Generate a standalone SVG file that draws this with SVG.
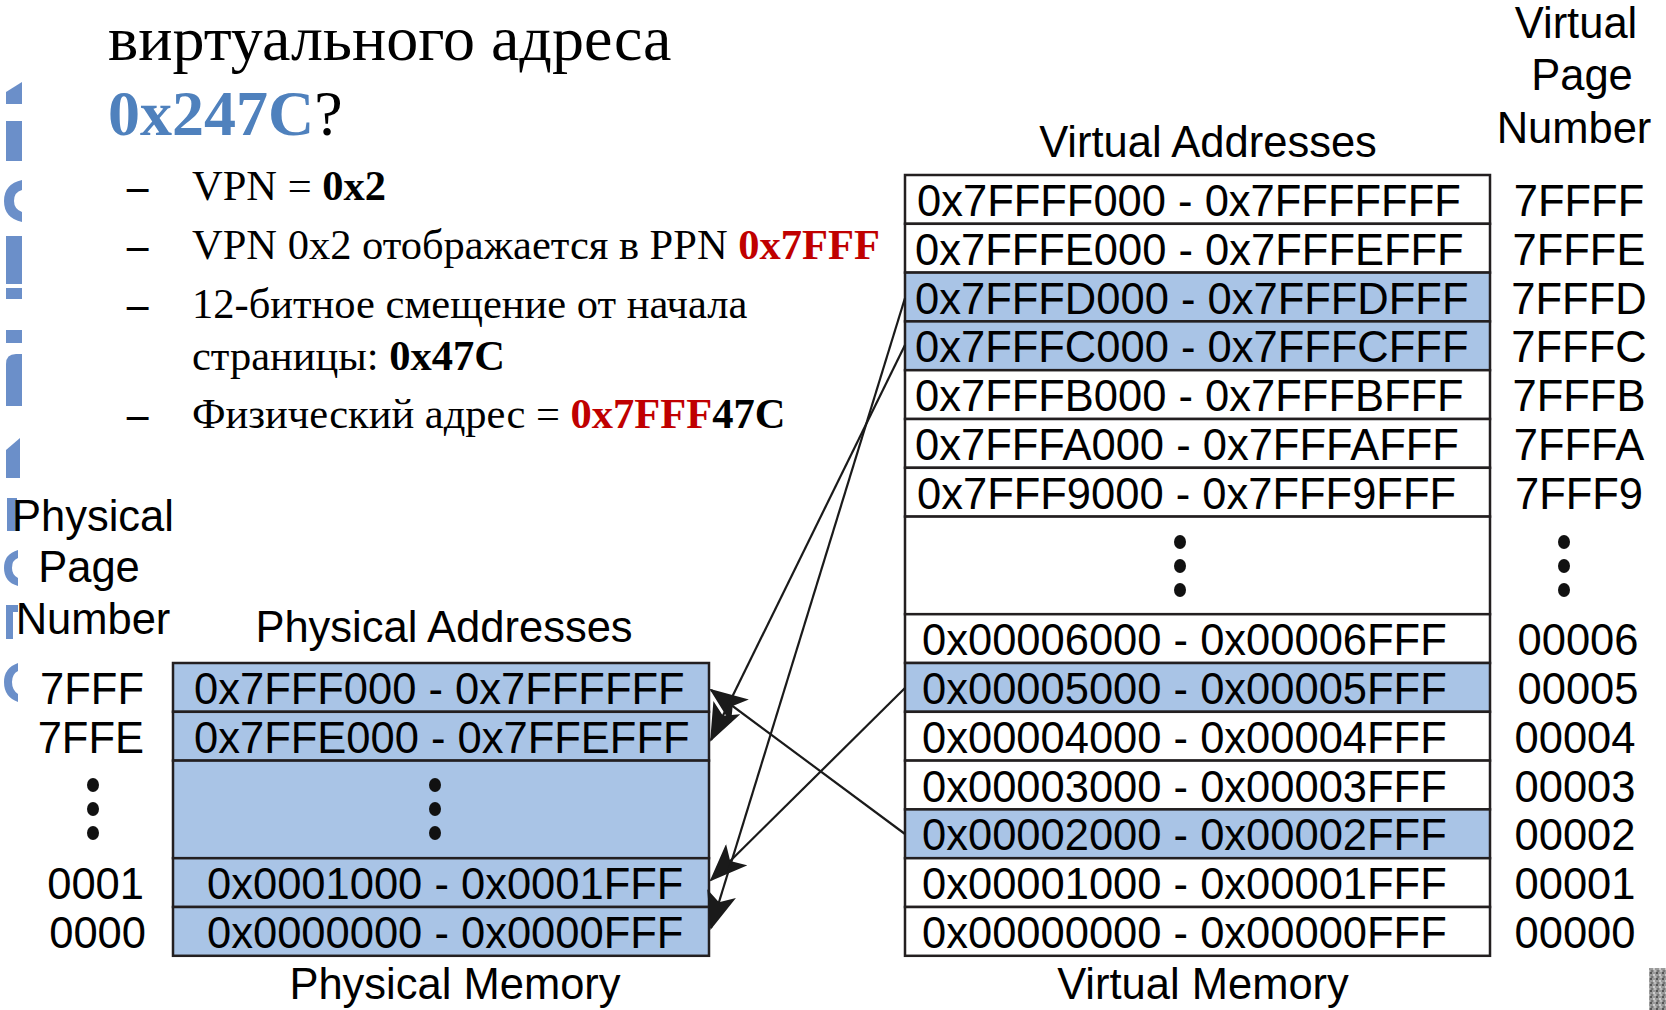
<svg xmlns="http://www.w3.org/2000/svg" width="1666" height="1010" viewBox="0 0 1666 1010">
<style>
.serif{font-family:"Liberation Serif","Times New Roman",serif;fill:#000}
.sans{font-family:"Liberation Sans",Arial,sans-serif;fill:#000;font-size:43.5px}
.mid{text-anchor:middle}
.end{text-anchor:end}
.cell{stroke:#231F20;stroke-width:2.5}
.white{fill:#fff}
.blue{fill:#A9C4E6}
.frag{fill:#6B8FC9}
.conn{stroke:#1a1a1a;stroke-width:2.2;fill:none;marker-end:url(#ah)}
.dot{fill:#111}
.dash{font-weight:bold}
</style>
<defs>
<marker id="ah" markerUnits="userSpaceOnUse" markerWidth="38" markerHeight="30" refX="36" refY="15" orient="auto">
<path d="M0,0 L38,15 L0,30 L9,15 Z" fill="#1a1a1a"/>
</marker>
<pattern id="noise" width="6" height="6" patternUnits="userSpaceOnUse">
<rect width="6" height="6" fill="#9a9a9a"/>
<rect x="0" y="0" width="2" height="2" fill="#555"/>
<rect x="3" y="2" width="2" height="2" fill="#ccc"/>
<rect x="1" y="4" width="2" height="2" fill="#777"/>
<rect x="4" y="4" width="2" height="2" fill="#bbb"/>
</pattern>
</defs>

<g id="edge-fragments">
<polygon class="frag" points="6,92 22,82 22,104 6,104"/>
<path class="frag" d="M6,121 H22 V161 H6 Z"/>
<path class="frag" d="M22,180 Q4,184 4,201 Q4,218 22,222 V212 Q14,209 14,201 Q14,192 22,190 Z"/>
<path class="frag" d="M6,236 H22 V284 H6 Z"/>
<rect class="frag" x="6" y="288" width="16" height="11"/>
<rect class="frag" x="6" y="330" width="16" height="13"/>
<path class="frag" d="M6,364 Q6,354 16,354 H22 V406 H6 Z"/>
<polygon class="frag" points="6,450 20,438 20,478 6,478"/>
<rect class="frag" x="7" y="498" width="10" height="33"/>
<path class="frag" d="M18,550 Q4,554 4,568 Q4,582 18,586 V578 Q12,575 12,568 Q12,560 18,558 Z"/>
<path class="frag" d="M6,605 H18 V612 H13 V639 H6 Z"/>
<path class="frag" d="M18,663 Q4,668 4,682 Q4,697 18,702 V694 Q12,690 12,682 Q12,674 18,671 Z"/>
</g>
<rect id="corner-texture" x="1649" y="968" width="17" height="42" fill="url(#noise)"/>

<g id="question">
<text class="serif" x="108" y="60" font-size="64">виртуального адреса</text>
<text class="serif" x="108" y="135" font-size="64"><tspan font-weight="bold" fill="#4F81BD">0x247C</tspan>?</text>
</g>

<g id="bullets" class="serif" font-size="42.5">
<text class="serif dash" x="127" y="200">–</text>
<text class="serif" x="192" y="200">VPN = <tspan font-weight="bold">0x2</tspan></text>
<text class="serif dash" x="127" y="259">–</text>
<text class="serif" x="192" y="259">VPN 0x2 отображается в PPN <tspan font-weight="bold" fill="#C00000">0x7FFF</tspan></text>
<text class="serif dash" x="127" y="318">–</text>
<text class="serif" x="192" y="318">12-битное смещение от начала</text>
<text class="serif" x="192" y="370">страницы: <tspan font-weight="bold">0x47C</tspan></text>
<text class="serif dash" x="127" y="428">–</text>
<text class="serif" x="192" y="428">Физический адрес = <tspan font-weight="bold" fill="#C00000">0x7FFF</tspan><tspan font-weight="bold">47C</tspan></text>
</g>

<g id="virtual-memory">
<text class="sans mid" x="1208" y="157">Virtual Addresses</text>
<text class="sans mid" x="1576" y="38">Virtual</text>
<text class="sans mid" x="1582" y="90">Page</text>
<text class="sans mid" x="1574" y="143">Number</text>
<rect class="cell white" x="905" y="175" width="585" height="48.8"/>
<rect class="cell white" x="905" y="223.8" width="585" height="48.8"/>
<rect class="cell blue" x="905" y="272.6" width="585" height="48.8"/>
<rect class="cell blue" x="905" y="321.4" width="585" height="48.8"/>
<rect class="cell white" x="905" y="370.2" width="585" height="48.8"/>
<rect class="cell white" x="905" y="419" width="585" height="48.8"/>
<rect class="cell white" x="905" y="467.8" width="585" height="48.8"/>
<rect class="cell white" x="905" y="516.6" width="585" height="97.6"/>
<rect class="cell white" x="905" y="614.2" width="585" height="48.8"/>
<rect class="cell blue" x="905" y="663" width="585" height="48.8"/>
<rect class="cell white" x="905" y="711.8" width="585" height="48.8"/>
<rect class="cell white" x="905" y="760.6" width="585" height="48.8"/>
<rect class="cell blue" x="905" y="809.4" width="585" height="48.8"/>
<rect class="cell white" x="905" y="858.2" width="585" height="48.8"/>
<rect class="cell white" x="905" y="907" width="585" height="48.8"/>
<text class="sans" x="917" y="216">0x7FFFF000 - 0x7FFFFFFF</text>
<text class="sans" x="915" y="264.8">0x7FFFE000 - 0x7FFFEFFF</text>
<text class="sans" x="915" y="313.6">0x7FFFD000 - 0x7FFFDFFF</text>
<text class="sans" x="915" y="362.4">0x7FFFC000 - 0x7FFFCFFF</text>
<text class="sans" x="915" y="411.2">0x7FFFB000 - 0x7FFFBFFF</text>
<text class="sans" x="915" y="460">0x7FFFA000 - 0x7FFFAFFF</text>
<text class="sans" x="917" y="508.8">0x7FFF9000 - 0x7FFF9FFF</text>
<ellipse class="dot" cx="1180" cy="542" rx="6" ry="7"/>
<ellipse class="dot" cx="1180" cy="566" rx="6" ry="7"/>
<ellipse class="dot" cx="1180" cy="590" rx="6" ry="7"/>
<text class="sans" x="922" y="655.2">0x00006000 - 0x00006FFF</text>
<text class="sans" x="922" y="704">0x00005000 - 0x00005FFF</text>
<text class="sans" x="922" y="752.8">0x00004000 - 0x00004FFF</text>
<text class="sans" x="922" y="801.6">0x00003000 - 0x00003FFF</text>
<text class="sans" x="922" y="850.4">0x00002000 - 0x00002FFF</text>
<text class="sans" x="922" y="899.2">0x00001000 - 0x00001FFF</text>
<text class="sans" x="922" y="948">0x00000000 - 0x00000FFF</text>
<text class="sans mid" x="1579" y="216">7FFFF</text>
<text class="sans mid" x="1579" y="264.8">7FFFE</text>
<text class="sans mid" x="1579" y="313.6">7FFFD</text>
<text class="sans mid" x="1579" y="362.4">7FFFC</text>
<text class="sans mid" x="1579" y="411.2">7FFFB</text>
<text class="sans mid" x="1579" y="460">7FFFA</text>
<text class="sans mid" x="1579" y="508.8">7FFF9</text>
<ellipse class="dot" cx="1564" cy="542" rx="6" ry="7"/>
<ellipse class="dot" cx="1564" cy="566" rx="6" ry="7"/>
<ellipse class="dot" cx="1564" cy="590" rx="6" ry="7"/>
<text class="sans mid" x="1578" y="655.2">00006</text>
<text class="sans mid" x="1578" y="704">00005</text>
<text class="sans mid" x="1575" y="752.8">00004</text>
<text class="sans mid" x="1575" y="801.6">00003</text>
<text class="sans mid" x="1575" y="850.4">00002</text>
<text class="sans mid" x="1575" y="899.2">00001</text>
<text class="sans mid" x="1575" y="948">00000</text>
<text class="sans mid" x="1203" y="999">Virtual Memory</text>
</g>

<g id="physical-memory">
<text class="sans mid" x="93" y="531">Physical</text>
<text class="sans mid" x="89" y="582">Page</text>
<text class="sans mid" x="93" y="634">Number</text>
<text class="sans mid" x="444" y="642">Physical Addresses</text>
<rect class="cell blue" x="173" y="663" width="536" height="48.8"/>
<rect class="cell blue" x="173" y="711.8" width="536" height="48.8"/>
<rect class="cell blue" x="173" y="760.6" width="536" height="97.6"/>
<rect class="cell blue" x="173" y="858.2" width="536" height="48.8"/>
<rect class="cell blue" x="173" y="907" width="536" height="48.8"/>
<text class="sans" x="194" y="704">0x7FFF000 - 0x7FFFFFF</text>
<text class="sans" x="194" y="752.8">0x7FFE000 - 0x7FFEFFF</text>
<ellipse class="dot" cx="435" cy="785" rx="6" ry="7"/>
<ellipse class="dot" cx="435" cy="809" rx="6" ry="7"/>
<ellipse class="dot" cx="435" cy="833" rx="6" ry="7"/>
<text class="sans" x="207" y="899.2">0x0001000 - 0x0001FFF</text>
<text class="sans" x="207" y="948">0x0000000 - 0x0000FFF</text>
<text class="sans end" x="144" y="704">7FFF</text>
<text class="sans end" x="144" y="752.8">7FFE</text>
<ellipse class="dot" cx="93" cy="785" rx="6" ry="7"/>
<ellipse class="dot" cx="93" cy="809" rx="6" ry="7"/>
<ellipse class="dot" cx="93" cy="833" rx="6" ry="7"/>
<text class="sans end" x="144" y="899.2">0001</text>
<text class="sans end" x="146" y="948">0000</text>
<text class="sans mid" x="455" y="999">Physical Memory</text>
</g>

<g id="connectors">
<line class="conn" x1="905" y1="834" x2="711" y2="690"/>
<line class="conn" x1="905" y1="345" x2="711" y2="740"/>
<line class="conn" x1="905" y1="688" x2="711" y2="880"/>
<line class="conn" x1="905" y1="298" x2="711" y2="928"/>
</g>
</svg>
